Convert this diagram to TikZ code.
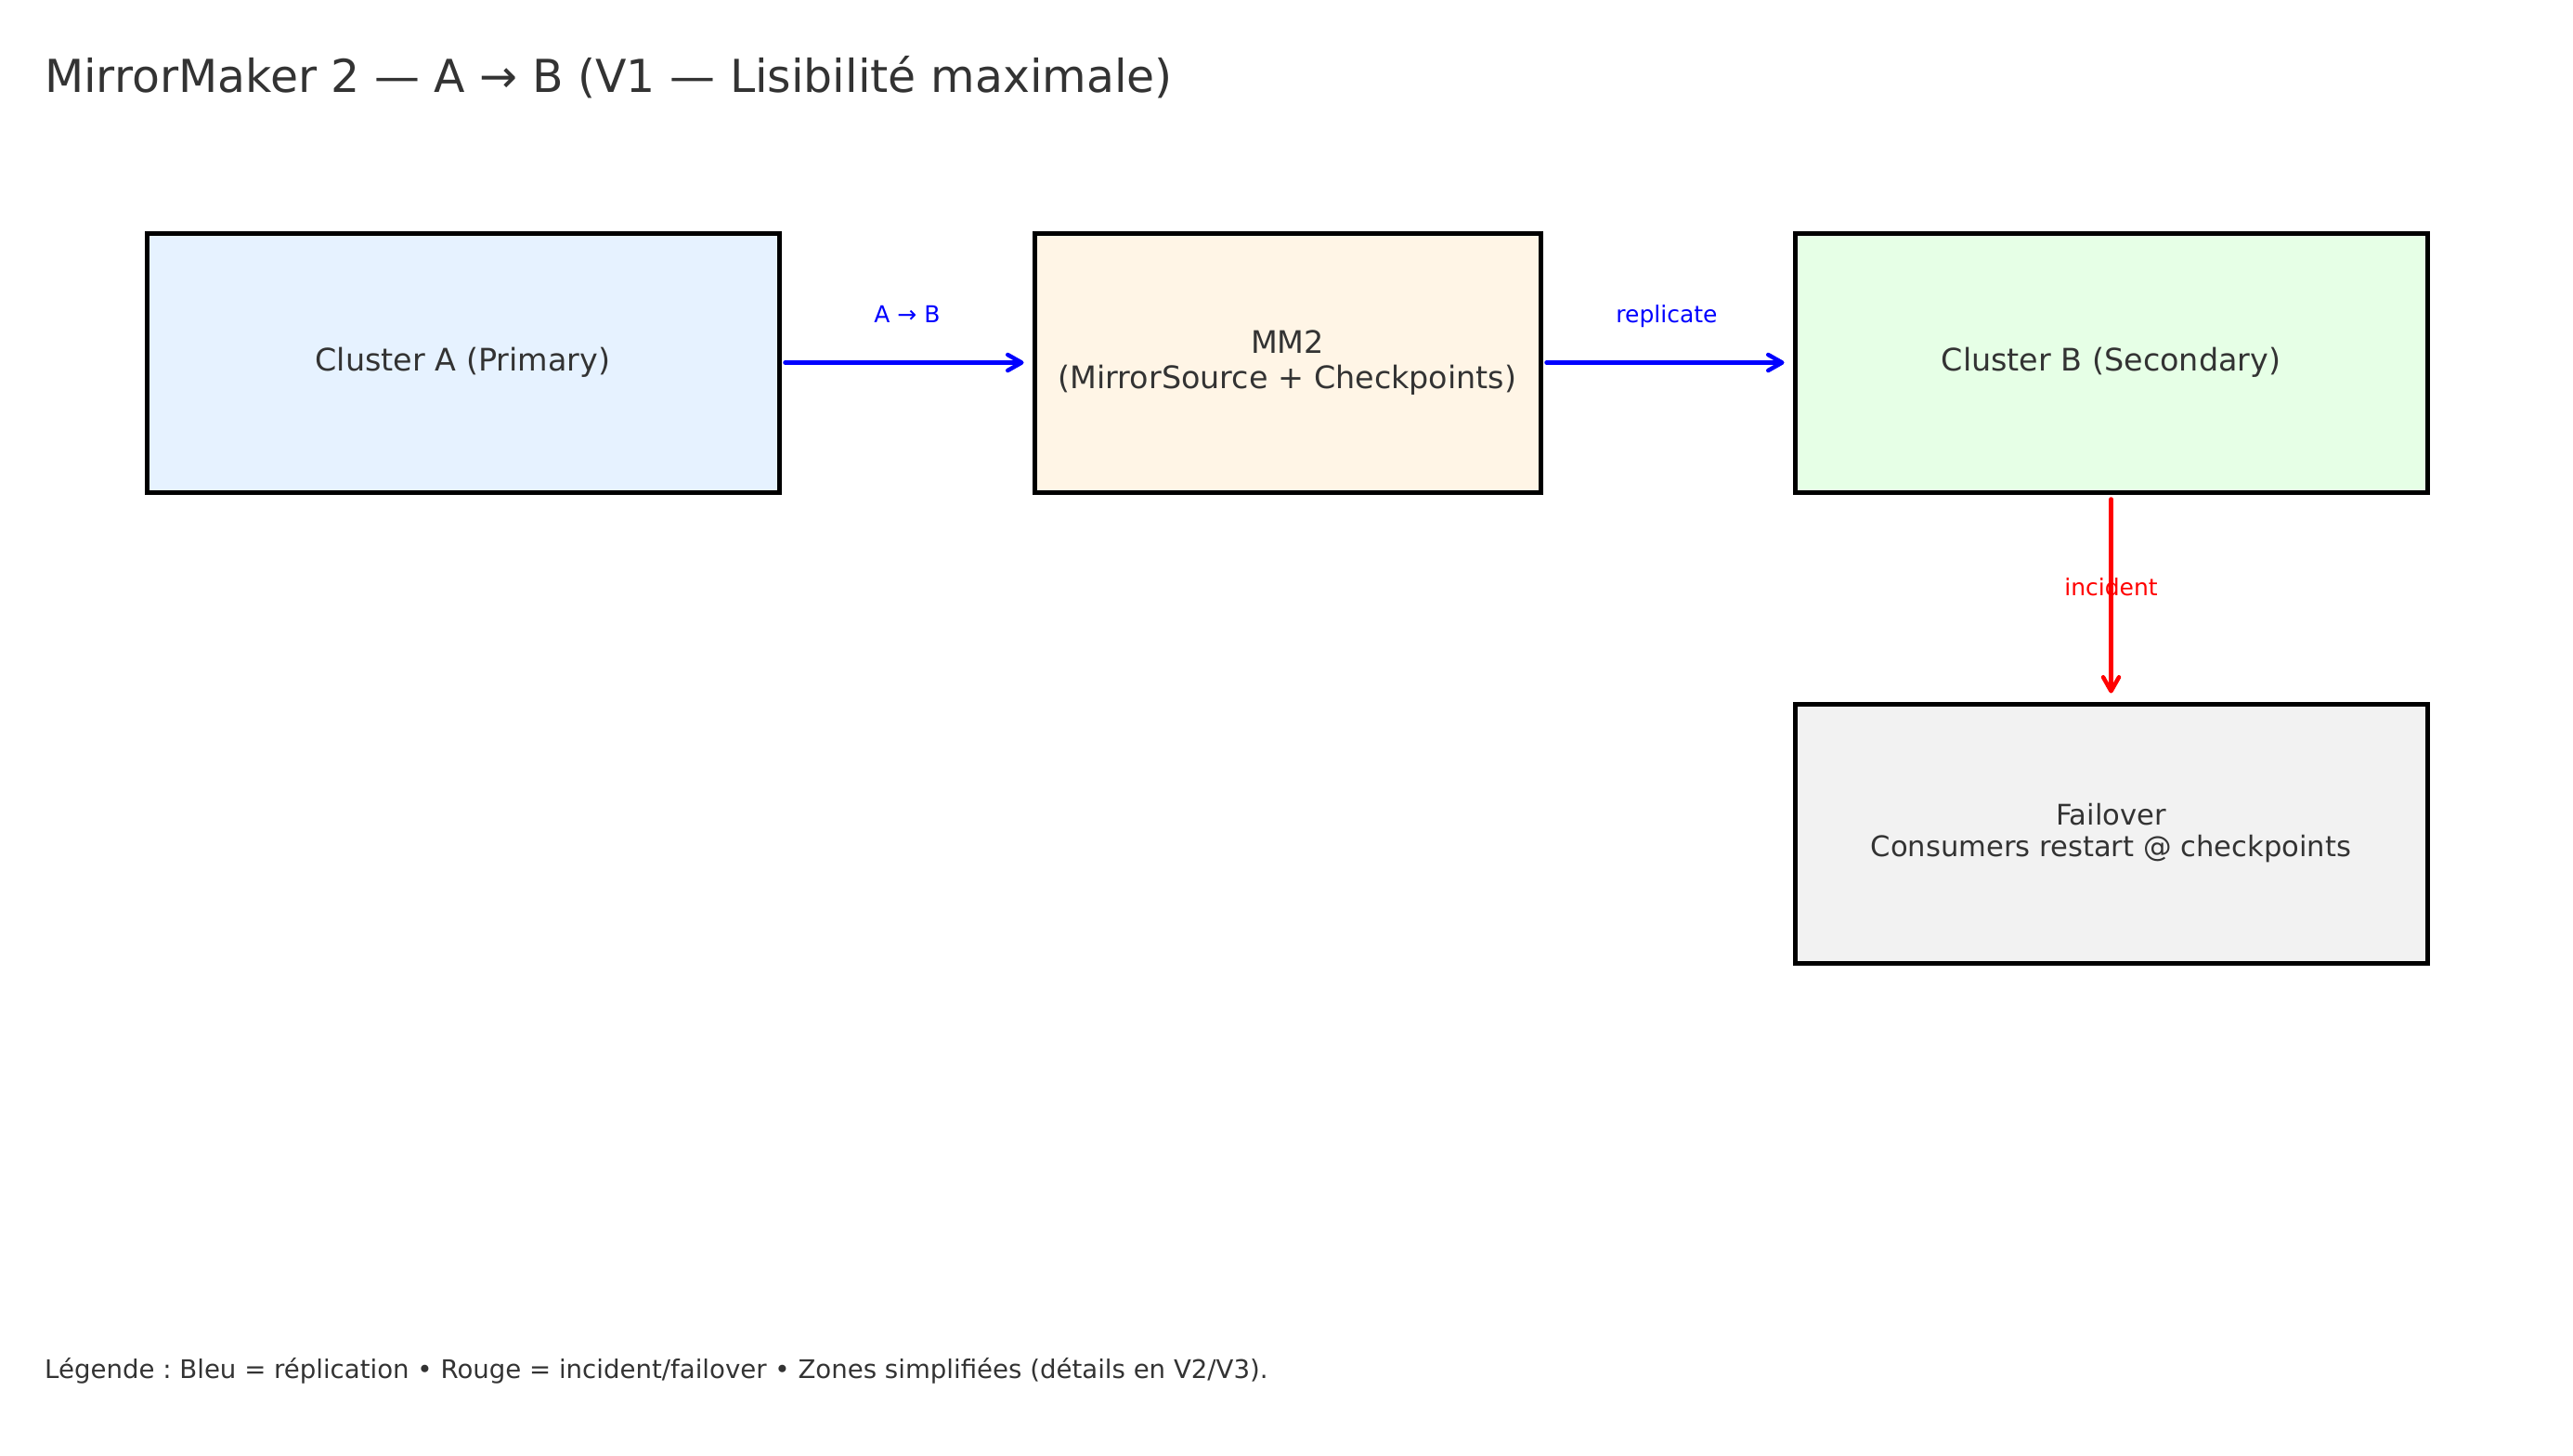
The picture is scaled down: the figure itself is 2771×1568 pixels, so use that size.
\documentclass[tikz,border=0pt]{standalone}
\usepackage{fontspec}
\setmainfont{DejaVu Sans}
\usetikzlibrary{arrows.meta}
\frenchspacing
\definecolor{txt}{HTML}{333333}
\definecolor{fillA}{HTML}{E6F2FF}
\definecolor{fillM}{HTML}{FFF5E6}
\definecolor{fillB}{HTML}{E6FFE6}
\definecolor{fillF}{HTML}{F2F2F2}
\definecolor{blueline}{HTML}{0000FF}
\definecolor{redline}{HTML}{FF0000}
\tikzset{
  boxnode/.style={draw=black, line width=5pt, text=txt, inner sep=0pt,
    minimum height=279pt, align=center,
    font=\fontsize{33.4}{37.5}\selectfont},
  arrowblue/.style={draw=blueline, line width=4.5pt, line cap=round,
    -{Straight Barb[length=15pt,width=17pt,round]}},
  arrowred/.style={draw=redline, line width=4.5pt, line cap=round,
    -{Straight Barb[length=15pt,width=17pt,round]}},
  edgelabel/.style={inner sep=0pt, anchor=base, font=\fontsize{25}{30}\selectfont},
  plaintext/.style={inner sep=0pt, anchor=base west, text=txt}
}
\begin{document}
\begin{tikzpicture}[x=1pt,y=-1pt]
\useasboundingbox[fill=white] (0,0) rectangle (2771,1568);

\node[plaintext, font=\fontsize{48.9}{58}\selectfont] (title) at (48,100)
  {MirrorMaker 2 — A → B (V1 — Lisibilité maximale)};

\node[boxnode, fill=fillA, minimum width=681pt] (A) at (498.5,390.5) {Cluster A (Primary)};
\node[boxnode, fill=fillM, minimum width=545pt] (M) at (1386.5,390.5) {MM2\\(MirrorSource + Checkpoints)};
\node[boxnode, fill=fillB, minimum width=681pt] (B) at (2273.5,390.5) {Cluster B (Secondary)};
\node[boxnode, fill=fillF, minimum width=681pt, font=\fontsize{30.6}{34}\selectfont] (F) at (2273.5,897.5)
  {Failover\\Consumers restart @ checkpoints};

\draw[arrowblue, shorten <=4pt, shorten >=9pt] (A.east) -- (M.west);
\draw[arrowblue, shorten <=4pt, shorten >=9pt] (M.east) -- (B.west);
\draw[arrowred, shorten <=5pt, shorten >=9pt] (B.south) -- (F.north);

\node[edgelabel, text=blueline] (lab1) at (977,347) {A → B};
\node[edgelabel, text=blueline] (lab2) at (1795,347) {replicate};
\node[edgelabel, text=redline] (lab3) at (2273.5,641) {incident};

\node[plaintext, font=\fontsize{27.6}{33}\selectfont] (legend) at (48,1484)
  {Légende : Bleu = réplication • Rouge = incident/failover • Zones simplifiées (détails en V2/V3).};
\end{tikzpicture}
\end{document}
